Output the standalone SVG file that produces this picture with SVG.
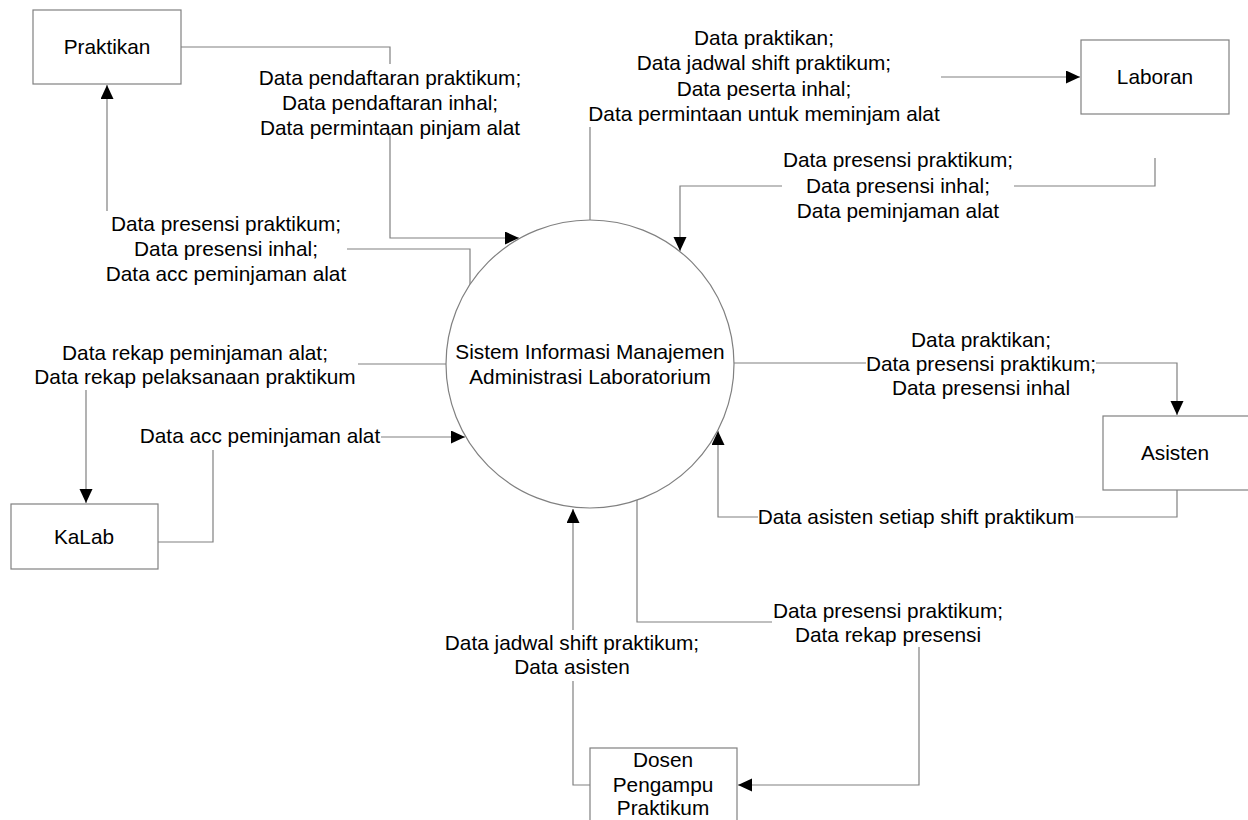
<svg xmlns="http://www.w3.org/2000/svg" width="1248" height="820" viewBox="0 0 1248 820">
<style>
  text { font-family: "Liberation Sans", Arial, sans-serif; font-size: 20.8px; fill: #000; text-anchor: middle; }
  .box { fill: #fff; stroke: #808080; stroke-width: 1.2; }
  .proc { fill: #fff; stroke: #808080; stroke-width: 1.2; }
  .flow { fill: none; stroke: #808080; stroke-width: 1.2; marker-end: url(#arr); }
  .bg { fill: #fff; stroke: none; }
</style>
<defs>
  <marker id="arr" markerUnits="userSpaceOnUse" markerWidth="15" markerHeight="14" refX="14" refY="6.5" orient="auto">
    <path d="M0,0 L14,6.5 L0,13 z" fill="#000"/>
  </marker>
</defs>
<rect width="1248" height="820" fill="#fff"/>

<g id="connectors">
  <path class="flow" d="M181,47 H390 V238 H519"/>
  <path class="flow" d="M470,286 V249 H107 V85"/>
  <path class="flow" d="M590,220 V77 H1080"/>
  <path class="flow" d="M1155,158 V186 H680 V251"/>
  <path class="flow" d="M447,364 H86 V503"/>
  <path class="flow" d="M158,542 H213 V437 H465"/>
  <path class="flow" d="M733,363 H1177 V415"/>
  <path class="flow" d="M1177,490 V517 H718 V431"/>
  <path class="flow" d="M637,499 V622 H919 V785 H738"/>
  <path class="flow" d="M590,785 H573 V509"/>

  <g id="label-praktikan-in">
    <rect class="bg" x="257" y="64" width="266" height="69"/>
    <text x="390" y="85">Data pendaftaran praktikum;</text>
    <text x="390" y="110">Data pendaftaran inhal;</text>
    <text x="390" y="135">Data permintaan pinjam alat</text>
  </g>
  <g id="label-praktikan-out">
    <rect class="bg" x="102" y="211" width="245" height="76"/>
    <text x="226" y="231">Data presensi praktikum;</text>
    <text x="226" y="256">Data presensi inhal;</text>
    <text x="226" y="281">Data acc peminjaman alat</text>
  </g>
  <g id="label-laboran-out">
    <rect class="bg" x="587" y="28" width="354" height="99"/>
    <text x="764" y="45">Data praktikan;</text>
    <text x="764" y="70">Data jadwal shift praktikum;</text>
    <text x="764" y="96">Data peserta inhal;</text>
    <text x="764" y="121">Data permintaan untuk meminjam alat</text>
  </g>
  <g id="label-laboran-in">
    <rect class="bg" x="782" y="147" width="232" height="76"/>
    <text x="898" y="167">Data presensi praktikum;</text>
    <text x="898" y="193">Data presensi inhal;</text>
    <text x="898" y="218">Data peminjaman alat</text>
  </g>
  <g id="label-kalab-out">
    <rect class="bg" x="33" y="340" width="325" height="50"/>
    <text x="195" y="360">Data rekap peminjaman alat;</text>
    <text x="195" y="384">Data rekap pelaksanaan praktikum</text>
  </g>
  <g id="label-kalab-in">
    <rect class="bg" x="139" y="425" width="242" height="25"/>
    <text x="260" y="443">Data acc peminjaman alat</text>
  </g>
  <g id="label-asisten-out">
    <rect class="bg" x="866" y="328" width="230" height="72"/>
    <text x="981" y="347">Data praktikan;</text>
    <text x="981" y="371">Data presensi praktikum;</text>
    <text x="981" y="395">Data presensi inhal</text>
  </g>
  <g id="label-asisten-in">
    <rect class="bg" x="758" y="505" width="317" height="25"/>
    <text x="916" y="524">Data asisten setiap shift praktikum</text>
  </g>
  <g id="label-dosen-out">
    <rect class="bg" x="772" y="598" width="232" height="49"/>
    <text x="888" y="618">Data presensi praktikum;</text>
    <text x="888" y="642">Data rekap presensi</text>
  </g>
  <g id="label-dosen-in">
    <rect class="bg" x="444" y="630" width="257" height="51"/>
    <text x="572" y="650">Data jadwal shift praktikum;</text>
    <text x="572" y="674">Data asisten</text>
  </g>
</g>

<g id="sistem">
  <circle class="proc" cx="590" cy="364" r="144"/>
  <text x="590" y="359">Sistem Informasi Manajemen</text>
  <text x="590" y="384">Administrasi Laboratorium</text>
</g>
<g id="praktikan">
  <rect class="box" x="33" y="10" width="148" height="74"/>
  <text x="107" y="54">Praktikan</text>
</g>
<g id="laboran">
  <rect class="box" x="1081" y="40" width="148" height="74"/>
  <text x="1155" y="84">Laboran</text>
</g>
<g id="kalab">
  <rect class="box" x="11" y="504" width="147" height="65"/>
  <text x="84" y="544">KaLab</text>
</g>
<g id="asisten">
  <rect class="box" x="1103" y="416" width="148" height="74"/>
  <text x="1175" y="460">Asisten</text>
</g>
<g id="dosen">
  <rect class="box" x="590" y="748" width="147" height="80"/>
  <text x="663" y="767">Dosen</text>
  <text x="663" y="792">Pengampu</text>
  <text x="663" y="815">Praktikum</text>
</g>
</svg>
